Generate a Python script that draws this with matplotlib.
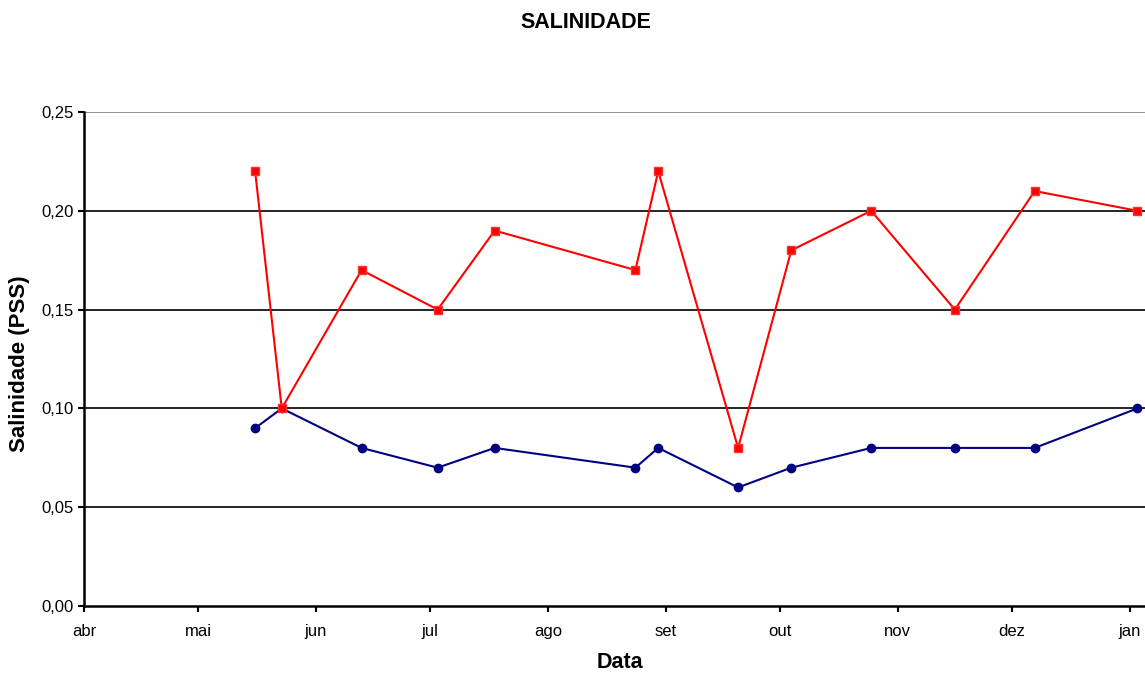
import matplotlib
matplotlib.use("Agg")
import matplotlib.pyplot as plt
from datetime import date

plt.rcParams['font.family'] = ['Liberation Sans', 'DejaVu Sans']

# sampling dates
datas = [date(2004, 5, 16), date(2004, 5, 23), date(2004, 6, 13), date(2004, 7, 3),
         date(2004, 7, 18), date(2004, 8, 24), date(2004, 8, 30), date(2004, 9, 20),
         date(2004, 10, 4), date(2004, 10, 25), date(2004, 11, 16), date(2004, 12, 7),
         date(2005, 1, 3)]

salRed = [0.22, 0.10, 0.17, 0.15, 0.19, 0.17, 0.22, 0.08, 0.18, 0.20, 0.15, 0.21, 0.20]
salBlue = [0.09, 0.10, 0.08, 0.07, 0.08, 0.07, 0.08, 0.06, 0.07, 0.08, 0.08, 0.08, 0.10]

mesesTicks = [date(2004, 4, 1), date(2004, 5, 1), date(2004, 6, 1), date(2004, 7, 1),
              date(2004, 8, 1), date(2004, 9, 1), date(2004, 10, 1), date(2004, 11, 1),
              date(2004, 12, 1), date(2005, 1, 1)]
mesesLabels = ["abr", "mai", "jun", "jul", "ago", "set", "out", "nov", "dez", "jan"]

yTicks = [0.0, 0.05, 0.10, 0.15, 0.20, 0.25]

fig = plt.figure(figsize=(11.45, 6.73), dpi=100)
ax = fig.add_axes([84 / 1145, 1 - 606 / 673, 1 - 84 / 1145, (606 - 112) / 673])

for yv in yTicks[1:]:
    ax.axhline(yv, color='black', linewidth=1.2, zorder=1,
               alpha=0.5 if yv == 0.25 else 1.0)

ax.plot(datas, salBlue, color='#000080', marker='o', markersize=6, linewidth=1.5, zorder=3)
ax.plot(datas, salRed, color='#ff0000', marker='s', markersize=6, linewidth=1.5,
        markeredgecolor='#ff3030', zorder=3)

ax.set_xlim(date(2004, 4, 1), date(2005, 1, 5))
ax.set_ylim(0, 0.25)
ax.set_xticks(mesesTicks)
ax.set_xticklabels(mesesLabels)
ax.set_yticks(yTicks)
ax.set_yticklabels([("%.2f" % v).replace('.', ',') for v in yTicks])

ax.tick_params(axis='both', labelsize=12, direction='out', length=4, width=1.5)
ax.tick_params(axis='x', pad=9)
for side in ['top', 'right']:
    ax.spines[side].set_visible(False)
ax.spines['left'].set_linewidth(1.8)
ax.spines['bottom'].set_linewidth(1.8)

fig.text(20 / 1145, 1 - 364 / 673, "Salinidade (PSS)", ha='center', va='center',
         rotation=90, fontsize=16, fontweight='bold')
fig.text(620 / 1145, 1 - 663 / 673, "Data", ha='center', va='center',
         fontsize=15.5, fontweight='bold')
fig.text(586 / 1145, 1 - 22 / 673, "SALINIDADE", ha='center', va='center',
         fontsize=15.5, fontweight='bold')

fig.savefig("out.png", dpi=100)
